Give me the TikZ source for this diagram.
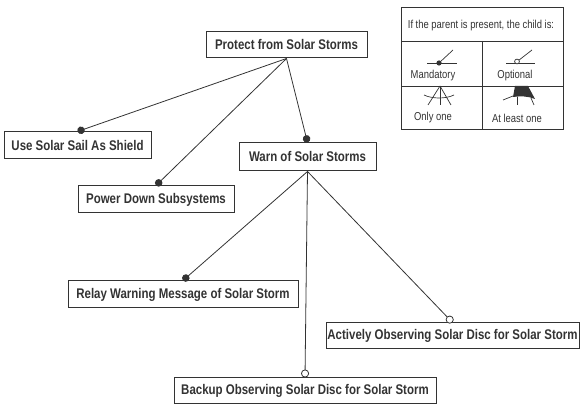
\documentclass[tikz,border=0pt]{standalone}
\usepackage{fontspec}
\newfontfamily\narrowsans{Liberation Sans}[FakeStretch=0.82]
\usetikzlibrary{arrows.meta}
\definecolor{ink}{HTML}{333333}

\begin{document}
\begin{tikzpicture}[
    x=1pt, y=1pt,
    goal/.style={draw=ink, line width=1pt, fill=white, text=ink, inner sep=0pt,
        minimum height=26pt, font=\narrowsans\bfseries\fontsize{14}{16}\selectfont},
    must/.style={ink, line width=0.8pt, -{Circle[length=7.5pt]}},
    may/.style={ink, line width=0.8pt, -{Circle[open, length=8pt, fill=white]}},
    keytext/.style={text=ink, inner sep=0pt, font=\narrowsans\fontsize{11.5}{13}\selectfont},
    keyline/.style={ink, line width=0.7pt},
]
\useasboundingbox (0,0) rectangle (584,404);

% Goals
\node[goal, minimum width=161pt] (protect) at (286.5,359) {Protect from Solar Storms};
\node[goal, minimum width=147pt, minimum height=27pt] (sail) at (77.5,258.5) {Use Solar Sail As Shield};
\node[goal, minimum width=156pt, minimum height=27pt] (power) at (156,204.5) {Power Down Subsystems};
\node[goal, minimum width=137pt, minimum height=28pt] (warn) at (307.5,247) {Warn of Solar Storms};
\node[goal, minimum width=230pt, minimum height=27pt] (relay) at (183,109.5) {Relay Warning Message of Solar Storm};
\node[goal, minimum width=253pt] (active) at (452.5,68) {Actively Observing Solar Disc for Solar Storm};
\node[goal, minimum width=262pt] (backup) at (305,13) {Backup Observing Solar Disc for Solar Storm};

% Links
\draw[must] (protect.south) -- (sail.north);
\draw[must] (protect.south) -- (power.north);
\draw[must] (protect.south) -- (warn.north);
\draw[must] (warn.south) -- (relay.north);
\draw[may] (warn.south) -- (backup.north);
\draw[may] (warn.south) -- (active.north);

% Legend frame
\draw[ink, line width=0.8pt] (401,275) rectangle (563,397);
\draw[ink, line width=0.8pt] (401,363) -- (563,363);
\draw[ink, line width=0.8pt] (401,318) -- (563,318);
\draw[ink, line width=0.8pt] (482,363) -- (482,275);
\node[keytext] (head) at (481,378) {If the parent is present, the child is:};

% Mandatory
\draw[keyline] (427,341) -- (457,341);
\draw[keyline] (439,341) -- (453,354);
\fill[ink] (439,341) circle (2.6);
\node[keytext] (mand) at (433,328) {Mandatory};

% Optional
\draw[keyline] (506,341) -- (535,341);
\draw[keyline] (518.5,343.5) -- (532,354);
\draw[keyline, fill=white] (517,342.5) circle (2.4);
\node[keytext] (opt) at (515,328) {Optional};

% Only one
\draw[keyline] (440,318) -- (428,299);
\draw[keyline] (440,318) -- (440,299);
\draw[keyline] (440,318) -- (451,299);
\draw[keyline] (424,309) .. controls (432,305) and (446,305) .. (454,309);
\node[keytext] (one) at (433,286) {Only one};

% At least one
\fill[ink] (515,318) -- (528,318) -- (535,305)
    .. controls (528,308) and (520,308) .. (513,307) -- cycle;
\draw[keyline] (503,304) -- (513,308);
\draw[keyline] (517,307) -- (517,299);
\draw[keyline] (531,306) -- (534,299);
\node[keytext] (least) at (517,286) {At least one};

\end{tikzpicture}
\end{document}
